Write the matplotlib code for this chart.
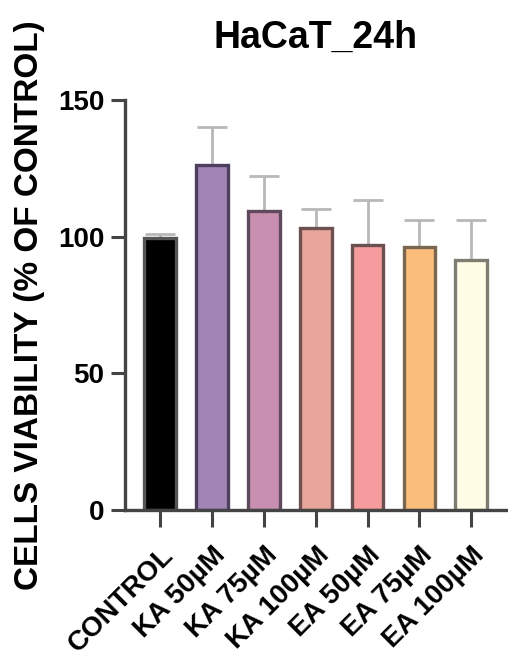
import numpy as np
import matplotlib
matplotlib.use('Agg')
import matplotlib.pyplot as plt

groups = ['CONTROL', 'KA 50µM', 'KA 75µM', 'KA 100µM', 'EA 50µM', 'EA 75µM', 'EA 100µM']
means = [99.5, 126, 109.5, 103, 97, 96, 91.5]
errs = [1.5, 14, 12.5, 7, 16.5, 10, 14.5]
colors = ['#000000', '#a085b5', '#c98fb0', '#e8a69b', '#f79c9e', '#fbbd7a', '#fffde6']
edges = ['#555555', '#4e3f5e', '#5e4a5c', '#6e5050', '#6a5050', '#7a6550', '#7d7d72']

plt.rcParams['font.family'] = ['Liberation Sans', 'DejaVu Sans']
plt.rcParams['font.weight'] = 'bold'

fig = plt.figure(figsize=(5.08, 6.57), dpi=100)
ax = fig.add_axes([0.246, 0.224, 0.752, 0.624])

x = np.arange(len(groups))
ax.errorbar(x, means, yerr=[np.zeros(len(errs)), errs], fmt='none',
            ecolor='#b8b8b8', elinewidth=2, capsize=11, capthick=2, zorder=1)
ax.bar(x, means, width=0.61, color=colors, edgecolor=edges, linewidth=2.4, zorder=2)

ax.set_xlim(-0.68, len(groups) - 1 + 0.69)
ax.set_ylim(0, 150)
ax.set_yticks([0, 50, 100, 150])
ax.set_xticks(x)
ax.set_xticklabels(groups, rotation=45, ha='right', rotation_mode='anchor', fontsize=20)
ax.tick_params(axis='y', labelsize=20, length=10, width=2.2, color='#444444', pad=5)
ax.tick_params(axis='x', length=12, width=2.2, color='#444444', pad=11)
for s in ['top', 'right']:
    ax.spines[s].set_visible(False)
for s in ['left', 'bottom']:
    ax.spines[s].set_linewidth(2.4)
    ax.spines[s].set_color('#444444')
ax.spines['left'].set_bounds(0, 150)

ax.set_ylabel('CELLS VIABILITY (% OF CONTROL)', fontsize=24, fontweight='bold')
ax.yaxis.set_label_coords(-0.209, 0.5)
fig.text(0.622, 1 - 48 / 657, 'HaCaT_24h', fontsize=27, fontweight='bold',
         ha='center', va='baseline')

fig.savefig('out.png', dpi=100)
